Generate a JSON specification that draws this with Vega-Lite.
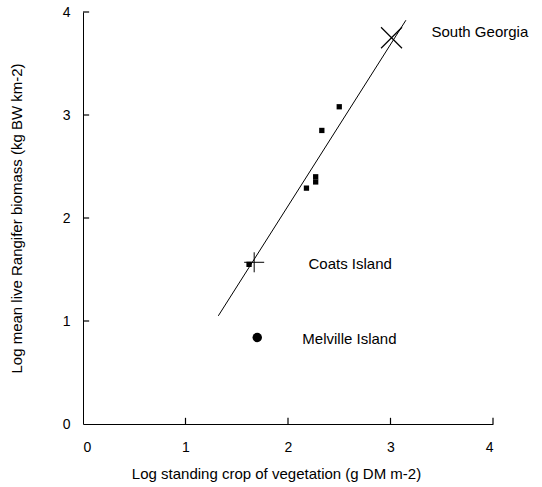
{
  "$schema": "https://vega.github.io/schema/vega-lite/v6.json",
  "autosize": "none",
  "width": 410,
  "height": 412,
  "padding": {"left": 83, "top": 12, "right": 49, "bottom": 63},
  "background": "white",
  "config": {
    "view": {"stroke": null},
    "font": "Liberation Sans",
    "axis": {"grid": false, "ticks": false, "domainColor": "black", "labelColor": "black", "titleColor": "black", "labelFont": "Liberation Sans", "titleFont": "Liberation Sans", "titleFontWeight": "normal", "labelFontSize": 14, "titleFontSize": 15}
  },
  "datasets": {
    "pts": [
      {"x": 3.01, "y": 3.75, "kind": "x"},
      {"x": 2.50, "y": 3.08, "kind": "square"},
      {"x": 2.33, "y": 2.85, "kind": "square"},
      {"x": 2.27, "y": 2.40, "kind": "square"},
      {"x": 2.27, "y": 2.35, "kind": "square"},
      {"x": 2.18, "y": 2.29, "kind": "square"},
      {"x": 1.62, "y": 1.55, "kind": "square"},
      {"x": 1.67, "y": 1.57, "kind": "plus"},
      {"x": 1.70, "y": 0.84, "kind": "circle"}
    ],
    "fit": [
      {"x": 1.32, "y": 1.05},
      {"x": 3.15, "y": 3.92}
    ],
    "labels": [
      {"x": 3.40, "y": 3.81, "label": "South Georgia"},
      {"x": 2.20, "y": 1.55, "label": "Coats Island"},
      {"x": 2.14, "y": 0.83, "label": "Melville Island"}
    ],
    "ticks": [
      {"v": 1}, {"v": 2}, {"v": 3}, {"v": 4}
    ]
  },
  "layer": [
    {
      "data": {"name": "fit"},
      "mark": {"type": "line", "color": "black", "strokeWidth": 1},
      "encoding": {
        "x": {"field": "x", "type": "quantitative", "scale": {"domain": [0, 4], "nice": false}, "axis": {"values": [0, 1, 2, 3, 4], "labelPadding": 16, "title": "Log standing crop of vegetation (g DM m-2)", "titlePadding": 12, "titleX": 193, "titleAnchor": "middle", "titleAlign": "center", "format": "d"}},
        "y": {"field": "y", "type": "quantitative", "scale": {"domain": [0, 4], "nice": false}, "axis": {"values": [0, 1, 2, 3, 4], "labelPadding": 13, "title": "Log mean live Rangifer biomass (kg BW km-2)", "titlePadding": 38, "format": "d"}}
      }
    },
    {
      "data": {"name": "ticks"},
      "mark": {"type": "rule", "color": "black", "strokeWidth": 1.2},
      "encoding": {"x": {"field": "v", "type": "quantitative"}, "y": {"datum": 0}, "y2": {"datum": 0.06}}
    },
    {
      "data": {"name": "ticks"},
      "mark": {"type": "rule", "color": "black", "strokeWidth": 1.2},
      "encoding": {"y": {"field": "v", "type": "quantitative"}, "x": {"datum": 0}, "x2": {"datum": 0.06}}
    },
    {
      "data": {"name": "pts"},
      "transform": [{"filter": "datum.kind === 'square'"}],
      "mark": {"type": "point", "shape": "square", "filled": true, "color": "black", "size": 28, "opacity": 1},
      "encoding": {"x": {"field": "x", "type": "quantitative"}, "y": {"field": "y", "type": "quantitative"}}
    },
    {
      "data": {"name": "pts"},
      "transform": [{"filter": "datum.kind === 'circle'"}],
      "mark": {"type": "point", "shape": "circle", "filled": true, "color": "black", "size": 90, "opacity": 1},
      "encoding": {"x": {"field": "x", "type": "quantitative"}, "y": {"field": "y", "type": "quantitative"}}
    },
    {
      "data": {"name": "pts"},
      "transform": [{"filter": "datum.kind === 'x'"}],
      "mark": {"type": "point", "shape": "M-1,-1L1,1M1,-1L-1,1", "filled": false, "color": "black", "strokeWidth": 1.2, "size": 440, "opacity": 1},
      "encoding": {"x": {"field": "x", "type": "quantitative"}, "y": {"field": "y", "type": "quantitative"}}
    },
    {
      "data": {"name": "pts"},
      "transform": [{"filter": "datum.kind === 'plus'"}],
      "mark": {"type": "point", "shape": "M-1,0L1,0M0,-1L0,1", "filled": false, "color": "black", "strokeWidth": 1, "size": 400, "opacity": 1},
      "encoding": {"x": {"field": "x", "type": "quantitative"}, "y": {"field": "y", "type": "quantitative"}}
    },
    {
      "data": {"name": "labels"},
      "mark": {"type": "text", "align": "left", "baseline": "middle", "fontSize": 15, "font": "Liberation Sans", "color": "black"},
      "encoding": {"x": {"field": "x", "type": "quantitative"}, "y": {"field": "y", "type": "quantitative"}, "text": {"field": "label"}}
    }
  ]
}
